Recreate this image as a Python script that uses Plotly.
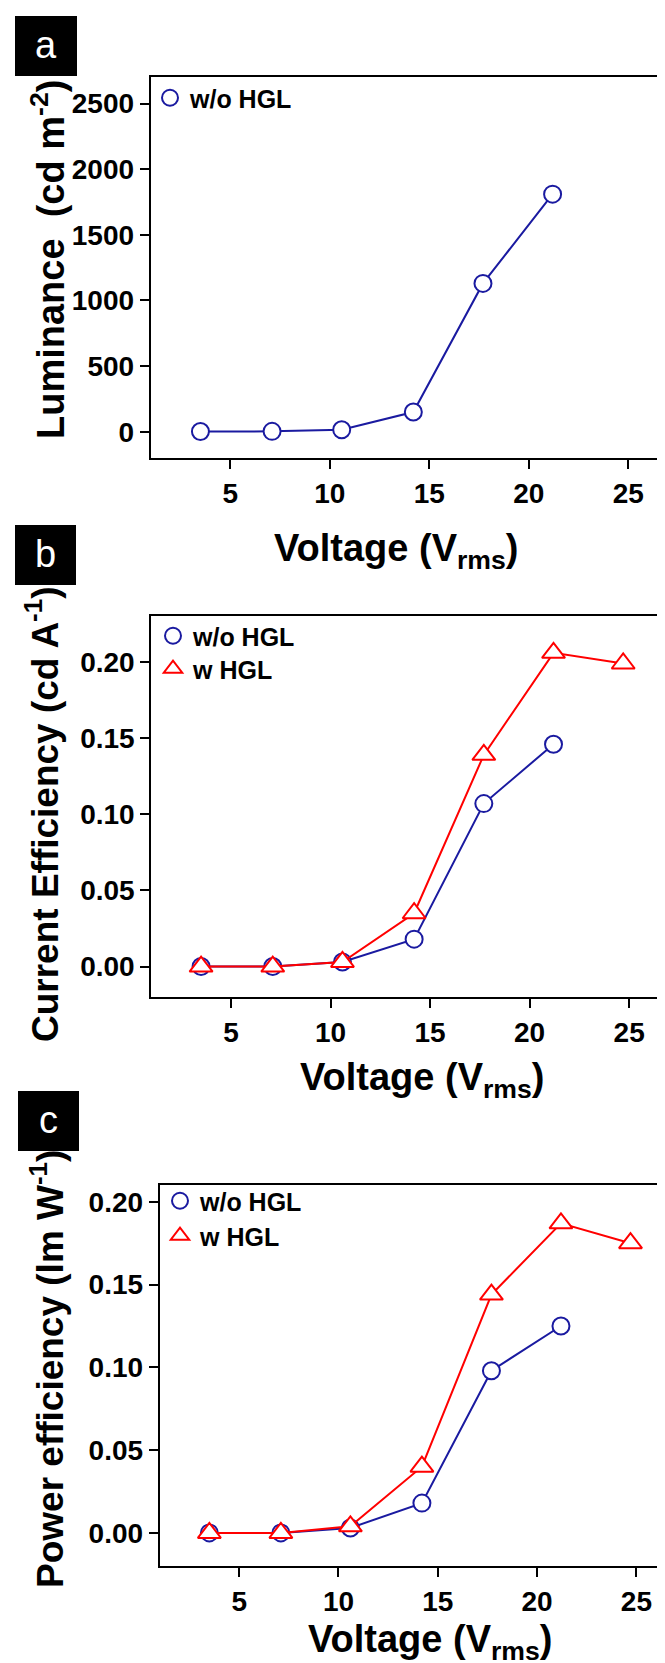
import plotly.graph_objects as go

W, H = 665, 1663
FONT = "Liberation Sans, Arial, sans-serif"
BLUE = "#1a1aa0"
RED = "#ff0000"

# ---- data ----
voltage_wo = [3.5, 7.1, 10.6, 14.2, 17.7, 21.2]
voltage_w = [3.5, 7.1, 10.6, 14.2, 17.7, 21.2, 24.7]
luminance_wo = [2, 3, 15, 150, 1130, 1810]
ce_wo = [0.000, 0.000, 0.003, 0.018, 0.107, 0.146]
ce_w = [0.000, 0.000, 0.003, 0.035, 0.139, 0.206, 0.199]
pe_wo = [0.000, 0.000, 0.003, 0.018, 0.098, 0.125]
pe_w = [0.000, 0.000, 0.004, 0.040, 0.144, 0.187, 0.175]

x_ticks = [5, 10, 15, 20, 25]
lum_ticks = [0, 500, 1000, 1500, 2000, 2500]
eff_ticks = [0.00, 0.05, 0.10, 0.15, 0.20]
label_wo = "w/o HGL"
label_w = "w HGL"


def px(x):
    return x / W


def py(y):
    return 1 - y / H


fig = go.Figure()

circle = dict(symbol="circle", size=17, color="white", line=dict(color=BLUE, width=2))
tri = dict(symbol="triangle-up", size=20, color="white", line=dict(color=RED, width=2))


def add_series(x, y, color, marker, xa, ya):
    fig.add_trace(go.Scatter(x=x, y=y, mode="lines+markers", line=dict(color=color, width=2),
                             marker=marker, xaxis=xa, yaxis=ya, showlegend=False,
                             hoverinfo="skip"))


def add_legend_entry(name, marker, legend, xa, ya):
    fig.add_trace(go.Scatter(x=[None], y=[None], mode="markers", marker=marker, name=name,
                             legend=legend, xaxis=xa, yaxis=ya, showlegend=True))


# panel a
add_series(voltage_wo, luminance_wo, BLUE, circle, "x", "y")
add_legend_entry(label_wo, circle, "legend", "x", "y")
# panel b
add_series(voltage_wo, ce_wo, BLUE, circle, "x2", "y2")
add_series(voltage_w, ce_w, RED, tri, "x2", "y2")
add_legend_entry(label_wo, circle, "legend2", "x2", "y2")
add_legend_entry(label_w, tri, "legend3", "x2", "y2")
# panel c
add_series(voltage_wo, pe_wo, BLUE, circle, "x3", "y3")
add_series(voltage_w, pe_w, RED, tri, "x3", "y3")
add_legend_entry(label_wo, circle, "legend4", "x3", "y3")
add_legend_entry(label_w, tri, "legend5", "x3", "y3")

tickfont = dict(family=FONT, size=28, color="black", weight="bold")
common = dict(showline=True, linecolor="black", linewidth=2, ticks="outside", ticklen=9,
              tickwidth=2, tickcolor="black", showgrid=False, zeroline=False,
              tickfont=tickfont, fixedrange=True)

fig.update_layout(
    xaxis=dict(common, mirror=True, range=[1, 27], tickvals=x_ticks,
               domain=[px(142.7), px(660)], anchor="y"),
    yaxis=dict(common, mirror=True, range=[-200, 2700], tickvals=lum_ticks,
               domain=[py(450), py(69.3)], anchor="x"),
    xaxis2=dict(common, mirror=True, range=[1, 27], tickvals=x_ticks,
                domain=[px(143.3), px(661)], anchor="y2"),
    yaxis2=dict(common, mirror=True, range=[-0.02, 0.23], tickvals=eff_ticks, tickformat=".2f",
                domain=[py(989), py(608.3)], anchor="x2"),
    xaxis3=dict(common, mirror=True, range=[1, 26.84], tickvals=x_ticks,
                domain=[px(151.7), 1.0], anchor="y3"),
    yaxis3=dict(common, mirror=False, range=[-0.02, 0.21], tickvals=eff_ticks, tickformat=".2f",
                domain=[py(1558), py(1177.3)], anchor="x3"),
)

legfont = dict(family=FONT, size=25, color="black", weight="bold")
legcommon = dict(xanchor="left", yanchor="top", font=legfont, bgcolor="rgba(0,0,0,0)",
                 itemsizing="trace", tracegroupgap=0)
fig.update_layout(
    legend=dict(legcommon, x=px(142), y=py(67)),
    legend2=dict(legcommon, x=px(145), y=py(605)),
    legend3=dict(legcommon, x=px(145), y=py(638)),
    legend4=dict(legcommon, x=px(152), y=py(1170)),
    legend5=dict(legcommon, x=px(152), y=py(1205)),
)

annotations = []
titlefont = dict(family=FONT, size=37, color="black", weight="bold")
titlefont_a = dict(family=FONT, size=38, color="black", weight="bold")
xtitlefont = dict(family=FONT, size=38, color="black", weight="bold")
ytitles = [
    ("Luminance\u00a0\u00a0(cd m<sup>-2</sup>)", 40, 252, titlefont_a),
    ("Current Efficiency (cd A<sup>-1</sup>)", 35, 807, titlefont),
    ("Power efficiency (lm W<sup>-1</sup>)", 39, 1361, titlefont),
]
for text, x, y, f in ytitles:
    annotations.append(dict(text=text, x=px(x), y=py(y), xref="paper", yref="paper",
                            xanchor="center", yanchor="middle", textangle=-90,
                            showarrow=False, font=f))
xtitles = [(388, 543), (414, 1072), (422, 1634)]
for x, y in xtitles:
    annotations.append(dict(text="Voltage (V<sub>rms</sub>)", x=px(x), y=py(y), xref="paper",
                            yref="paper", xanchor="center", yanchor="middle",
                            showarrow=False, font=xtitlefont))

shapes = []
panels = [("a", 7, 8, 69, 68), ("b", 7, 517, 68, 577), ("c", 10, 1083, 71, 1143)]
for letter, x0, y0, x1, y1 in panels:
    shapes.append(dict(type="rect", xref="paper", yref="paper", x0=px(x0), x1=px(x1),
                       y0=py(y1), y1=py(y0), fillcolor="black", line=dict(width=0)))
    annotations.append(dict(text=letter, x=px((x0 + x1) / 2), y=py((y0 + y1) / 2 - 1),
                            xref="paper", yref="paper", xanchor="center", yanchor="middle",
                            showarrow=False,
                            font=dict(family=FONT, size=38, color="white")))

fig.update_layout(
    width=W, height=H, margin=dict(l=0, r=0, t=0, b=0),
    paper_bgcolor="white", plot_bgcolor="white",
    annotations=annotations, shapes=shapes,
)

fig.write_html("out.html")
